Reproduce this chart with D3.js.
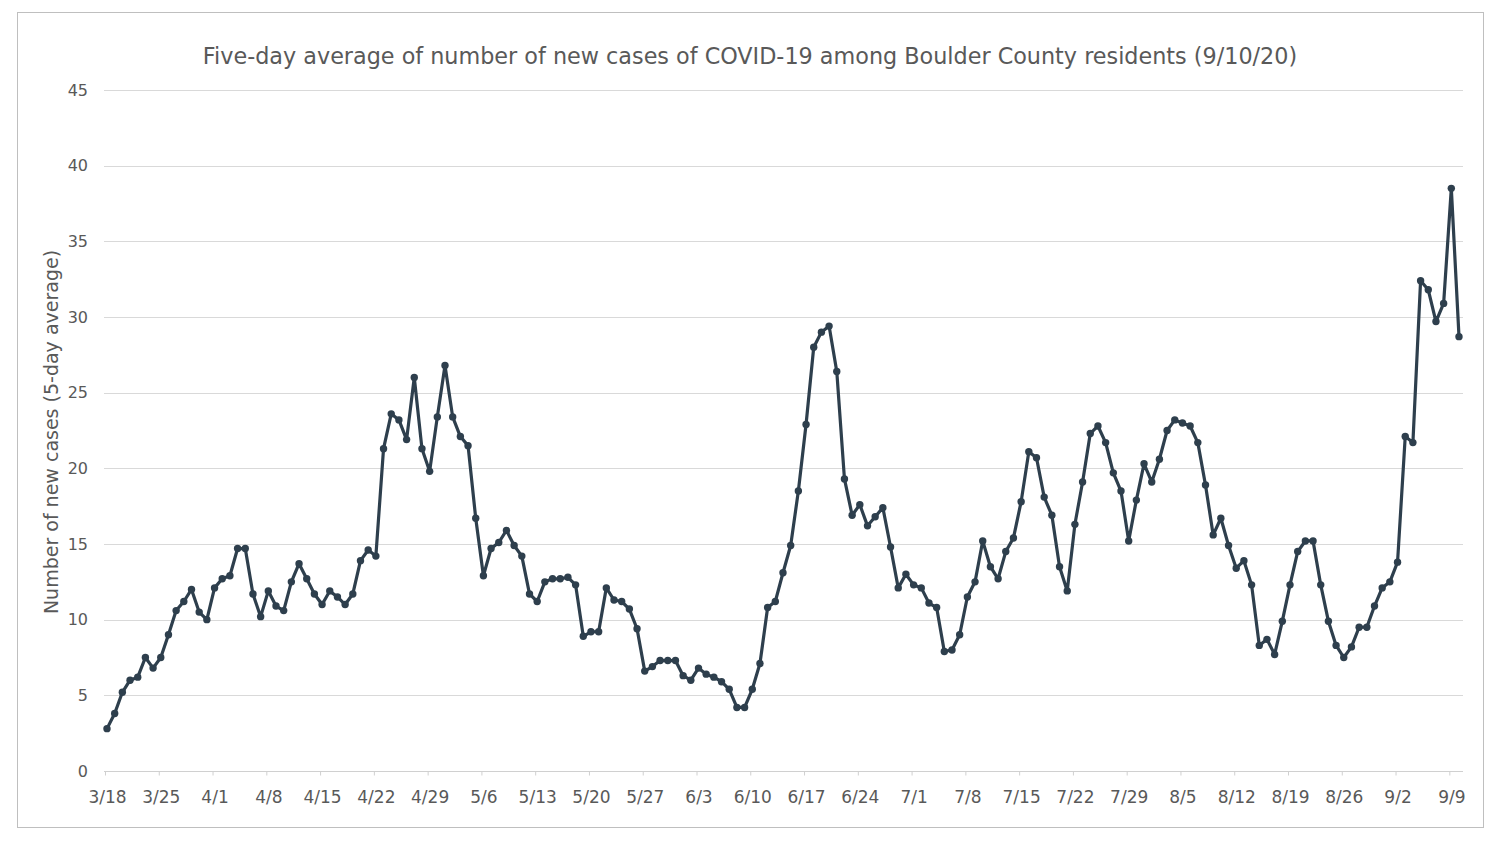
<!DOCTYPE html>
<html>
<head>
<meta charset="utf-8">
<script src="https://cdn.jsdelivr.net/npm/d3@7"></script>
<style>
  html, body { margin: 0; padding: 0; background: #fff; }
  svg text { font-family: "DejaVu Sans", "Noto Sans", sans-serif; fill: #595959; }
</style>
</head>
<body>
<svg id="chart" width="1500" height="844"></svg>
<script>
const titleText = "Five-day average of number of new cases of COVID-19 among Boulder County residents (9/10/20)";
const yLabelText = "Number of new cases (5-day average)";
const startDate = "2020-03-18";
const values = [
  2.8, 3.8, 5.2, 6.0, 6.2, 7.5, 6.8, 7.5, 9.0, 10.6, 11.2, 12.0, 10.5, 10.0,
  12.1, 12.7, 12.9, 14.7, 14.7, 11.7, 10.2, 11.9, 10.9, 10.6, 12.5, 13.7, 12.7, 11.7, 11.0, 11.9,
  11.5, 11.0, 11.7, 13.9, 14.6, 14.2, 21.3, 23.6, 23.2, 21.9, 26.0, 21.3, 19.8, 23.4,
  26.8, 23.4, 22.1, 21.5, 16.7, 12.9, 14.7, 15.1, 15.9, 14.9, 14.2, 11.7, 11.2, 12.5, 12.7, 12.7,
  12.8, 12.3, 8.9, 9.2, 9.2, 12.1, 11.3, 11.2, 10.7, 9.4, 6.6, 6.9, 7.3, 7.3, 7.3,
  6.3, 6.0, 6.8, 6.4, 6.2, 5.9, 5.4, 4.2, 4.2, 5.4, 7.1, 10.8, 11.2, 13.1, 14.9, 18.5, 22.9,
  28.0, 29.0, 29.4, 26.4, 19.3, 16.9, 17.6, 16.2, 16.8, 17.4, 14.8, 12.1, 13.0,
  12.3, 12.1, 11.1, 10.8, 7.9, 8.0, 9.0, 11.5, 12.5, 15.2, 13.5, 12.7, 14.5, 15.4, 17.8, 21.1,
  20.7, 18.1, 16.9, 13.5, 11.9, 16.3, 19.1, 22.3, 22.8, 21.7, 19.7, 18.5, 15.2, 17.9, 20.3,
  19.1, 20.6, 22.5, 23.2, 23.0, 22.8, 21.7, 18.9, 15.6, 16.7, 14.9, 13.4, 13.9, 12.3, 8.3,
  8.7, 7.7, 9.9, 12.3, 14.5, 15.2, 15.2, 12.3, 9.9, 8.3, 7.5, 8.2, 9.5, 9.5, 10.9, 12.1,
  12.5, 13.8, 22.1, 21.7, 32.4, 31.8, 29.7, 30.9, 38.5, 28.7
];
const yTicks = [0, 5, 10, 15, 20, 25, 30, 35, 40, 45];
const xTickLabels = ["3/18","3/25","4/1","4/8","4/15","4/22","4/29","5/6","5/13","5/20","5/27",
  "6/3","6/10","6/17","6/24","7/1","7/8","7/15","7/22","7/29","8/5","8/12","8/19","8/26","9/2","9/9"];

const parse = d3.timeParse("%Y-%m-%d");
const d0 = parse(startDate);
const data = values.map((v, i) => ({ date: d3.timeDay.offset(d0, i), value: v }));
const xTickDates = xTickLabels.map((_, i) => d3.timeDay.offset(d0, i * 7));

const svg = d3.select("#chart");

// outer frame
svg.append("rect").attr("x", 17.5).attr("y", 12.5).attr("width", 1466).attr("height", 815)
  .attr("fill", "#fff").attr("stroke", "#bfbfbf").attr("stroke-width", 1);

const plotLeft = 104, plotRight = 1463;
const x = d3.scaleTime().domain([d0, data[data.length - 1].date]).range([107, 1459]);
const y = d3.scaleLinear().domain([0, 45]).range([771, 90]);

// gridlines
svg.append("g").selectAll("line").data(yTicks.filter(t => t > 0)).join("line")
  .attr("x1", plotLeft).attr("x2", plotRight)
  .attr("y1", d => Math.round(y(d)) + 0.5).attr("y2", d => Math.round(y(d)) + 0.5)
  .attr("stroke", "#d9d9d9").attr("stroke-width", 1);

// y axis labels
const yAxis = d3.axisLeft(y).tickValues(yTicks).tickSize(0).tickPadding(0);
const gy = svg.append("g").attr("transform", "translate(88,0)").call(yAxis);
gy.select(".domain").remove();
gy.selectAll("text").attr("font-size", 16).attr("fill", "#595959")
  .style("font-family", "DejaVu Sans, sans-serif");

// x axis
const xAxis = d3.axisBottom(x).tickValues(xTickDates)
  .tickFormat((d, i) => xTickLabels[i]).tickSize(4).tickPadding(15);
const gx = svg.append("g").attr("transform", "translate(0," + (Math.round(y(0)) + 0.5) + ")").call(xAxis);
gx.select(".domain").attr("d", `M${plotLeft},0H${plotRight}`).attr("stroke", "#d0d0d0");
gx.selectAll(".tick line").attr("stroke", "#d0d0d0").attr("transform", "translate(-2,0)");
gx.selectAll("text").attr("font-size", 17).attr("fill", "#595959")
  .style("font-family", "DejaVu Sans, sans-serif");

// line
const line = d3.line().x(d => x(d.date)).y(d => y(d.value));
svg.append("path").datum(data).attr("d", line)
  .attr("fill", "none").attr("stroke", "#2e3f4d").attr("stroke-width", 3.2)
  .attr("stroke-linejoin", "round");
svg.append("g").selectAll("circle").data(data).join("circle")
  .attr("cx", d => x(d.date)).attr("cy", d => y(d.value)).attr("r", 3.7)
  .attr("fill", "#2e3f4d");

// title
svg.append("text").attr("x", 750).attr("y", 64).attr("text-anchor", "middle")
  .attr("font-size", 22.3).text(titleText);

// y label
svg.append("text").attr("transform", "translate(58,432) rotate(-90)")
  .attr("text-anchor", "middle").attr("font-size", 19).text(yLabelText);
</script>
</body>
</html>
